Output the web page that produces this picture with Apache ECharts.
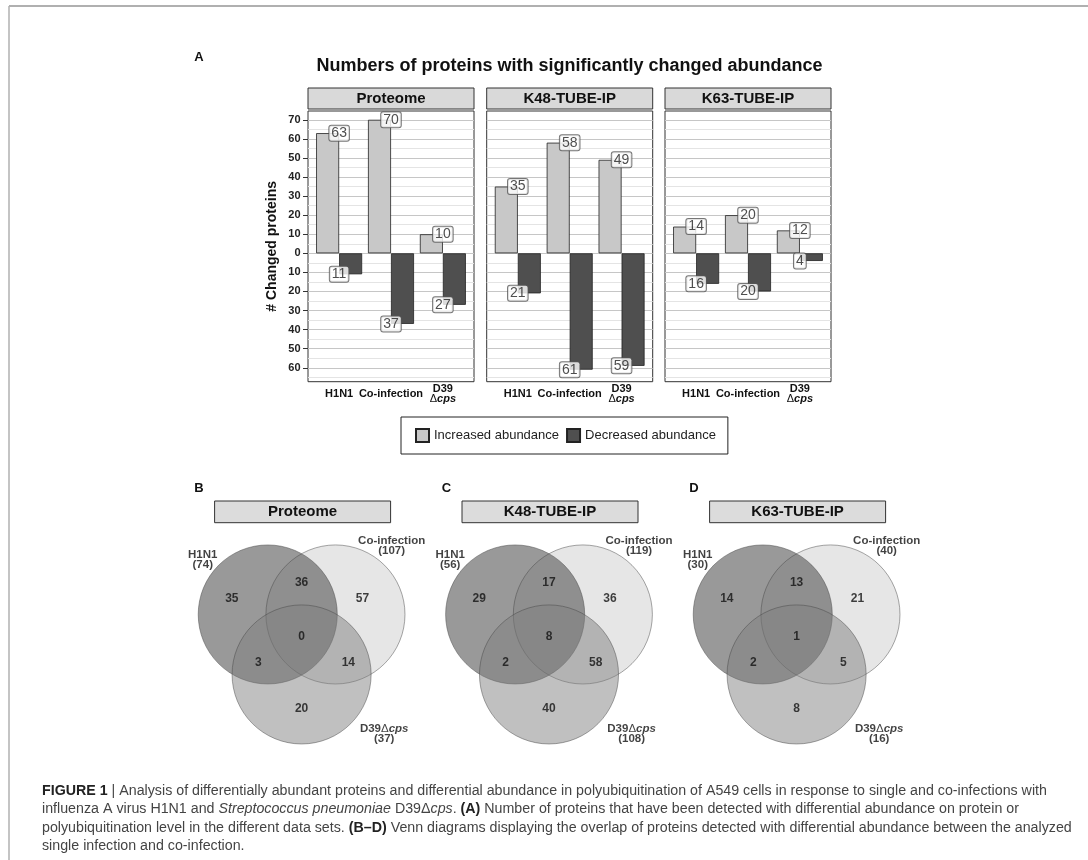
<!DOCTYPE html>
<html><head><meta charset="utf-8">
<script src="https://cdn.jsdelivr.net/npm/echarts@6/dist/echarts.min.js"></script>
<style>html,body{margin:0;padding:0;background:#fff}#c{width:1088px;height:860px}</style>
</head><body><div id="c"></div>
<script>
// ---------------- DATA ----------------
const panelNames = ['Proteome', 'K48-TUBE-IP', 'K63-TUBE-IP'];
const categories = ['H1N1', 'Co-infection', 'D39 Δcps'];
const seriesNames = ['Increased abundance', 'Decreased abundance'];
const proteomeIncreased = [63, 70, 10];
const proteomeDecreased = [11, 37, 27];
const k48Increased = [35, 58, 49];
const k48Decreased = [21, 61, 59];
const k63Increased = [14, 20, 12];
const k63Decreased = [16, 20, 4];
const yMajorTicks = [-60, -50, -40, -30, -20, -10, 0, 10, 20, 30, 40, 50, 60, 70];
const yMinorTicks = [-65, -55, -45, -35, -25, -15, -5, 5, 15, 25, 35, 45, 55, 65];
// Venn regions: [H1N1 only, H1N1&Co, Co only, all three, H1N1&D39, Co&D39, D39 only]
const vennProteome = [35, 36, 57, 0, 3, 14, 20];
const vennK48 = [29, 17, 36, 8, 2, 58, 40];
const vennK63 = [14, 13, 21, 1, 2, 5, 8];
// Venn set totals: [H1N1, Co-infection, D39Δcps]
const totalsProteome = [74, 107, 37];
const totalsK48 = [56, 119, 108];
const totalsK63 = [30, 40, 16];
const vennLetters = ['B', 'C', 'D'];

// ---------------- LAYOUT ----------------
const FONT = '"Liberation Sans", Arial, sans-serif';
const PANEL_LEFT = [308, 486.7, 665], PANEL_W = 166, PANEL_TOP = 111, PANEL_H = 270.7;
const STRIP_TOP = 88, STRIP_H = 21;
const Y_MIN = -67.3, Y_MAX = 74.6;
const VENN_CX = [301.6, 549, 796.6], VENN_CY = 634.5, VENN_S = 67.7;
const VENN_CIRCLES = [[-0.5, 0.296], [0.5, 0.296], [0, -0.59]], VENN_R = 1.027;
const VENN_FILLS = ['rgba(51,51,51,0.5)', 'rgba(85,85,85,0.15)', 'rgba(126,126,126,0.49)'];
const VENN_REGION_POS = [[-1.03, 0.535], [0, 0.76], [0.9, 0.535], [0, -0.03], [-0.64, -0.41], [0.69, -0.41], [0, -1.09]];
const VENN_SETLABEL_POS = [[-1.46, 1.10], [1.33, 1.31], [1.22, -1.47]];

const upData = [proteomeIncreased, k48Increased, k63Increased];
const downData = [proteomeDecreased, k48Decreased, k63Decreased];
const vennData = [vennProteome, vennK48, vennK63];
const vennTotals = [totalsProteome, totalsK48, totalsK63];

const grids = [], xAxes = [], yAxes = [], series = [];
const labelBox = {
  show: true, position: 'inside', fontSize: 14, fontFamily: FONT, color: '#222', lineHeight: 14,
  backgroundColor: '#fff', borderColor: '#555', borderWidth: 1, borderRadius: 2, padding: [1, 2, 0, 2]
};
const xRich = {
  b: { fontWeight: 'bold', fontSize: 11, fontFamily: FONT, color: '#111', lineHeight: 10 },
  d: { fontSize: 11, fontFamily: FONT, color: '#111', lineHeight: 10 },
  bi: { fontWeight: 'bold', fontStyle: 'italic', fontSize: 11, fontFamily: FONT, color: '#111', lineHeight: 10 }
};
function xLabel(v) {
  const c = categories[Math.round(v) - 1] || '';
  if (c.indexOf('Δ') >= 0) { const parts = c.split(' Δ'); return '{b|' + parts[0] + '}\n{d|Δ}{bi|' + parts[1] + '}'; }
  return '{b|' + c + '}';
}

for (let p = 0; p < 3; p++) {
  grids.push({ left: PANEL_LEFT[p], top: PANEL_TOP, width: PANEL_W, height: PANEL_H, show: true,
    backgroundColor: '#fff', borderColor: '#333', borderWidth: 1 });
  xAxes.push({ gridIndex: p, type: 'value', min: 0.4, max: 3.6, splitLine: { show: false },
    axisLine: { show: false }, axisTick: { show: false, customValues: [1, 2, 3] },
    axisLabel: { customValues: [1, 2, 3], formatter: xLabel, rich: xRich, margin: 12, verticalAlign: 'middle' } });
  yAxes.push({ gridIndex: p, type: 'value', min: Y_MIN, max: Y_MAX,
    axisLine: { show: false },
    axisTick: { show: p === 0, customValues: yMajorTicks, length: 5, lineStyle: { color: '#333' } },
    axisLabel: { show: p === 0, customValues: yMajorTicks, formatter: v => String(Math.abs(v)), margin: 7.5,
      fontSize: 11, fontWeight: 'bold', fontFamily: FONT, color: '#222' },
    splitLine: { show: true, lineStyle: { color: '#c6c6c6', width: 1 } },
    name: p === 0 ? '# Changed proteins' : '', nameLocation: 'middle', nameGap: 29,
    nameTextStyle: { fontSize: 14, fontWeight: 'bold', fontFamily: FONT, color: '#111' } });
  yAxes.push({ gridIndex: p, type: 'value', min: Y_MIN, max: Y_MAX, axisLine: { show: false },
    axisTick: { show: false, customValues: yMinorTicks }, axisLabel: { show: false, customValues: yMinorTicks },
    splitLine: { show: true, lineStyle: { color: '#e4e4e4', width: 1 } } });

  series.push({ type: 'bar', name: seriesNames[0], xAxisIndex: p, yAxisIndex: 2 * p,
    data: upData[p].map((v, i) => [i + 1, v]), barWidth: 23, barGap: '0%',
    itemStyle: { color: '#c8c8c8', borderColor: '#222', borderWidth: 0.8 }, z: 3 });
  series.push({ type: 'bar', name: seriesNames[1], xAxisIndex: p, yAxisIndex: 2 * p,
    data: downData[p].map((v, i) => [i + 1, -v]), barWidth: 23, barGap: '0%',
    itemStyle: { color: '#4f4f4f', borderColor: '#222', borderWidth: 0.8 }, z: 3 });
  series.push({ type: 'scatter', xAxisIndex: p, yAxisIndex: 2 * p, silent: true, z: 5,
    data: upData[p].map((v, i) => [i + 1, v, v]), symbolSize: 1, itemStyle: { color: 'transparent' },
    label: Object.assign({ formatter: d => String(d.value[2]) }, labelBox) });
  series.push({ type: 'scatter', xAxisIndex: p, yAxisIndex: 2 * p, silent: true, z: 5,
    data: downData[p].map((v, i) => [i + 1, -v, v]), symbolSize: 1, itemStyle: { color: 'transparent' },
    label: Object.assign({ formatter: d => String(d.value[2]) }, labelBox) });
}

// Venn diagrams
const setRich = {
  b: { fontWeight: 'bold', fontSize: 11.5, fontFamily: FONT, color: '#111', lineHeight: 10.5, align: 'center' },
  d: { fontSize: 11.5, fontFamily: FONT, color: '#111', lineHeight: 10.5 },
  bi: { fontWeight: 'bold', fontStyle: 'italic', fontSize: 11.5, fontFamily: FONT, color: '#111', lineHeight: 10.5 }
};
function setLabel(i, total) {
  if (i === 2) return '{b|D39}{d|Δ}{bi|cps}\n{b|(' + total + ')}';
  return '{b|' + (i === 0 ? 'H1N1' : 'Co-infection') + '}\n{b|(' + total + ')}';
}
for (let k = 0; k < 3; k++) {
  const gi = 3 + k;
  grids.push({ left: VENN_CX[k] - 2 * VENN_S, top: VENN_CY - 2 * VENN_S, width: 4 * VENN_S, height: 4 * VENN_S });
  xAxes.push({ gridIndex: gi, type: 'value', min: -2, max: 2, show: false });
  yAxes.push({ gridIndex: gi, type: 'value', min: -2, max: 2, show: false });
  const yi = 6 + k;
  series.push({ type: 'custom', xAxisIndex: gi, yAxisIndex: yi, silent: true, z: 2,
    data: VENN_CIRCLES.map((c, i) => [c[0], c[1], VENN_R, i]),
    renderItem: (params, api) => {
      const c = api.coord([api.value(0), api.value(1)]);
      const r = api.size([api.value(2), 0])[0];
      return { type: 'circle', shape: { cx: c[0], cy: c[1], r: r },
        style: { fill: VENN_FILLS[api.value(3)], stroke: 'rgba(70,70,70,0.6)', lineWidth: 0.8 } };
    } });
  series.push({ type: 'scatter', xAxisIndex: gi, yAxisIndex: yi, silent: true, z: 4, symbolSize: 1,
    itemStyle: { color: 'transparent' },
    data: VENN_REGION_POS.map((pos, i) => [pos[0], pos[1], vennData[k][i]]),
    label: { show: true, position: 'inside', formatter: d => String(d.value[2]), fontSize: 12,
      fontWeight: 'bold', fontFamily: FONT, color: '#111' } });
  series.push({ type: 'scatter', xAxisIndex: gi, yAxisIndex: yi, silent: true, z: 4, symbolSize: 1,
    itemStyle: { color: 'transparent' },
    data: VENN_SETLABEL_POS.map((pos, i) => [pos[0], pos[1], vennTotals[k][i], i]),
    label: { show: true, position: 'inside', align: 'center', formatter: d => setLabel(d.value[3], d.value[2]), rich: setRich } });
}

// ---------------- GRAPHICS (frames, strips, caption) ----------------
const graphics = [];
graphics.push({ type: 'line', shape: { x1: 9, y1: 6, x2: 1088, y2: 6 }, style: { stroke: '#b0b0b0', lineWidth: 2 } });
graphics.push({ type: 'line', shape: { x1: 9, y1: 6, x2: 9, y2: 860 }, style: { stroke: '#b0b0b0', lineWidth: 1.5 } });
graphics.push({ type: 'text', x: 199, y: 57, style: { text: 'A', fontSize: 13, fontWeight: 'bold', fontFamily: FONT, fill: '#111', align: 'center', verticalAlign: 'middle' } });
graphics.push({ type: 'text', x: 569.5, y: 66, style: { text: 'Numbers of proteins with significantly changed abundance', fontSize: 18, fontWeight: 'bold', fontFamily: FONT, fill: '#111', align: 'center', verticalAlign: 'middle' } });
for (let p = 0; p < 3; p++) {
  graphics.push({ type: 'rect', shape: { x: PANEL_LEFT[p], y: STRIP_TOP, width: PANEL_W, height: STRIP_H }, style: { fill: '#d9d9d9', stroke: '#333', lineWidth: 1 } });
  graphics.push({ type: 'text', x: PANEL_LEFT[p] + PANEL_W / 2, y: STRIP_TOP + STRIP_H / 2 + 0.5, style: { text: panelNames[p], fontSize: 15, fontWeight: 'bold', fontFamily: FONT, fill: '#111', align: 'center', verticalAlign: 'middle' } });
}
for (let k = 0; k < 3; k++) {
  graphics.push({ type: 'rect', shape: { x: VENN_CX[k] + 1 - 88, y: 501, width: 176, height: 21.7 }, style: { fill: '#dcdcdc', stroke: '#333', lineWidth: 1 } });
  graphics.push({ type: 'text', x: VENN_CX[k] + 1, y: 512, style: { text: panelNames[k], fontSize: 15, fontWeight: 'bold', fontFamily: FONT, fill: '#111', align: 'center', verticalAlign: 'middle' } });
  graphics.push({ type: 'text', x: VENN_CX[k] - 102.6, y: 488, style: { text: vennLetters[k], fontSize: 13, fontWeight: 'bold', fontFamily: FONT, fill: '#111', align: 'center', verticalAlign: 'middle' } });
}
// Caption
const capLines = [
  ['{b|FIGURE 1}', ' | Analysis of differentially abundant proteins and differential abundance in polyubiquitination of A549 cells in response to single and co-infections with'],
  ['influenza A virus H1N1 and ', '{i|Streptococcus pneumoniae}', ' D39Δ', '{i|cps}', '. ', '{b|(A)}', ' Number of proteins that have been detected with differential abundance on protein or'],
  ['polyubiquitination level in the different data sets. ', '{b|(B–D)}', ' Venn diagrams displaying the overlap of proteins detected with differential abundance between the analyzed'],
  ['single infection and co-infection.']
];
const mctx = document.createElement('canvas').getContext('2d');
function segWidth(seg, size) {
  let style = 'normal', weight = 'normal', t = seg;
  if (seg.startsWith('{b|')) { weight = 'bold'; t = seg.slice(3, -1); }
  else if (seg.startsWith('{i|')) { style = 'italic'; t = seg.slice(3, -1); }
  mctx.font = style + ' ' + weight + ' ' + size + 'px "Liberation Sans"';
  return mctx.measureText(t).width;
}
const line1W = capLines[0].reduce((s, g) => s + segWidth(g, 10), 0);
const capSize = 10 * 1005 / line1W;
const capFont = capSize.toFixed(2) + 'px "Liberation Sans", Arial, sans-serif';
const capRich = {
  b: { font: 'bold ' + capFont, fill: '#222' },
  i: { font: 'italic ' + capFont, fill: '#444' }
};
const capY = [791, 809.5, 828, 846.5];
capLines.forEach((segs, i) => {
  graphics.push({ type: 'text', x: 42, y: capY[i], style: { text: segs.join(''), rich: capRich, font: capFont, fill: '#444', align: 'left', verticalAlign: 'middle' } });
});

const chart = echarts.init(document.getElementById('c'), null, { renderer: 'canvas' });
chart.setOption({
  animation: false,
  backgroundColor: '#fff',
  textStyle: { fontFamily: FONT },
  legend: { data: seriesNames, left: 401, top: 417, icon: 'rect', itemWidth: 13, itemHeight: 13, itemGap: 7,
    padding: [11, 12, 11, 14], borderColor: '#222', borderWidth: 1, selectedMode: false,
    textStyle: { fontSize: 13, color: '#222', fontFamily: FONT } },
  grid: grids, xAxis: xAxes, yAxis: yAxes, series: series, graphic: graphics
});
</script></body></html>
